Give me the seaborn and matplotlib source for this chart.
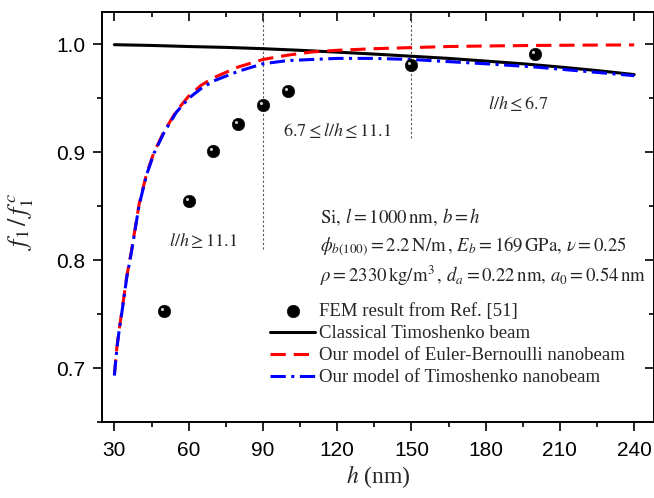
import numpy as np
import pandas as pd
import matplotlib
matplotlib.use('Agg')
import matplotlib.pyplot as plt
import matplotlib.transforms as mtransforms
from matplotlib.ticker import MultipleLocator
import seaborn as sns

# Values
h_fem = [50, 60, 70, 80, 90, 100, 150, 200]
f_fem = [0.753, 0.855, 0.901, 0.926, 0.944, 0.957, 0.981, 0.991]

h_curve = [30, 31, 32, 33, 35, 37, 40, 43, 46, 50, 55, 60, 65, 70, 80, 90,
           100, 110, 120, 135, 150, 165, 180, 200, 220, 240]
f_eb = [0.694, 0.719, 0.737, 0.752, 0.785, 0.810, 0.852, 0.880, 0.900, 0.919,
        0.938, 0.952, 0.962, 0.969, 0.979, 0.986, 0.990, 0.993, 0.9945, 0.996,
        0.997, 0.998, 0.9985, 0.999, 0.9993, 0.9995]
f_timo_nano = [0.693, 0.718, 0.736, 0.751, 0.784, 0.809, 0.851, 0.879, 0.899,
               0.918, 0.937, 0.950, 0.959, 0.966, 0.975, 0.982, 0.985, 0.986,
               0.987, 0.987, 0.986, 0.984, 0.982, 0.979, 0.975, 0.971]

h_classic = [30, 45, 60, 75, 90, 105, 120, 135, 150, 165, 180, 195, 210, 225, 240]
f_classic = [0.9997, 0.999, 0.998, 0.9972, 0.996, 0.9945, 0.9928, 0.991,
             0.989, 0.987, 0.9845, 0.982, 0.979, 0.9757, 0.972]

h_bounds = [90, 150]
f_bound_low = [0.81, 0.913]

region_labels = [r'$l/h \geq 11.1$', r'$6.7 \leq l/h \leq 11.1$', r'$l/h \leq 6.7$']
region_x = [66, 120, 193]
region_y = [0.818, 0.920, 0.945]

params_text = [r'$\mathrm{Si},\, l = 1000\,\mathrm{nm},\, b = h$',
               r'$\phi_{b(100)} = 2.2\,\mathrm{N/m}\,,\, E_b = 169\,\mathrm{GPa},\, \nu = 0.25$',
               r'$\rho = 2330\,\mathrm{kg/m^3}\,,\, d_a = 0.22\,\mathrm{nm},\, a_0 = 0.54\,\mathrm{nm}$']

fem = pd.DataFrame({'h': h_fem, 'f': f_fem})

sns.set_style('ticks')
plt.rcParams['font.family'] = ['Liberation Serif', 'DejaVu Serif']
plt.rcParams['mathtext.fontset'] = 'stix'

fig = plt.figure(figsize=(6.54, 4.98), dpi=100)
ax = fig.add_axes([102 / 654, 76 / 498, 552 / 654, 410 / 498])

# vertical region boundaries
ax.vlines(h_bounds, f_bound_low, 1.03, colors='#555555', linestyles=(0, (2, 2)), linewidth=0.8)

sns.lineplot(x=h_classic, y=f_classic, ax=ax, color='black', linewidth=2.2,
             label='Classical Timoshenko beam')
sns.lineplot(x=h_curve, y=f_eb, ax=ax, color='#ff0000', linewidth=2.2,
             linestyle=(0, (5, 2.6)), label='Our model of Euler-Bernoulli nanobeam')
sns.lineplot(x=h_curve, y=f_timo_nano, ax=ax, color='#0000ff', linewidth=2.2,
             linestyle=(0, (5, 1.8, 1, 1.8)), label='Our model of Timoshenko nanobeam')
sns.scatterplot(data=fem, x='h', y='f', ax=ax, color='black', s=80, edgecolor='#111111',
                linewidth=0.5, zorder=5, label='FEM result from Ref. [51]')
# little highlight on the balls
hl = mtransforms.offset_copy(ax.transData, fig=fig, x=-1.4, y=1.4, units='points')
ax.scatter(h_fem, f_fem, s=5, color='#cfcfcf', linewidth=0, zorder=6, transform=hl)

for txt, x, y in zip(region_labels, region_x, region_y):
    ax.text(x, y, txt, fontsize=13, ha='center', va='center')

for i, txt in enumerate(params_text):
    ax.text(0.395, 0.50 - 0.072 * i, txt, transform=ax.transAxes, fontsize=13.5,
            ha='left', va='center')

handles, labels = ax.get_legend_handles_labels()
order = [3, 0, 1, 2]
ax.legend([handles[i] for i in order], [labels[i] for i in order],
          loc='upper left', bbox_to_anchor=(0.305, 0.29), frameon=False,
          fontsize=13.5, handlelength=2.4, handletextpad=0.2, labelspacing=0.26,
          borderpad=0, borderaxespad=0)

ax.set_xlim(25, 248)
ax.set_ylim(0.65, 1.03)
ax.xaxis.set_major_locator(MultipleLocator(30))
ax.xaxis.set_minor_locator(MultipleLocator(15))
ax.yaxis.set_major_locator(MultipleLocator(0.1))
ax.yaxis.set_minor_locator(MultipleLocator(0.05))
ax.yaxis.set_major_formatter(matplotlib.ticker.FormatStrFormatter('%.1f'))

for s in ax.spines.values():
    s.set_linewidth(1.4)
    s.set_color('black')
ax.tick_params(which='both', top=True, right=True, width=1.2, colors='black',
               labelsize=15, labelfontfamily='Liberation Sans')
ax.tick_params(which='major', length=6.5)
ax.tick_params(which='minor', length=3.5)
ax.tick_params(axis='x', which='both', direction='out', pad=7.5)
ax.tick_params(axis='y', which='both', direction='out', pad=5.5)
for t in ax.xaxis.get_major_ticks() + ax.xaxis.get_minor_ticks():
    t.tick2line.set_marker(matplotlib.lines.TICKDOWN)
for t in ax.yaxis.get_major_ticks() + ax.yaxis.get_minor_ticks():
    t.tick2line.set_marker(matplotlib.lines.TICKLEFT)

ax.set_xlabel(r'$h$ (nm)', fontsize=17, labelpad=2)
ax.set_ylabel(r'$f_1\,/\,f_1^{\,c}$', fontsize=19)
ax.yaxis.set_label_coords(-0.12, 0.49)

fig.savefig('out.png', dpi=100)
